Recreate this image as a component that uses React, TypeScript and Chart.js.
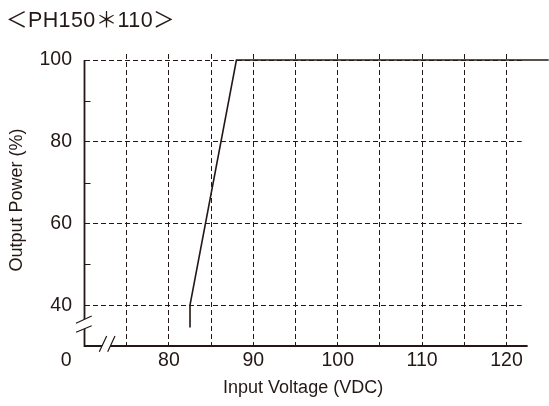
import React, { useEffect, useRef } from 'react';
import { Chart, registerables } from 'chart.js';

Chart.register(...registerables);

const chartTitle = '＜PH150＊110＞';
const xTitle = 'Input Voltage (VDC)';
const yTitle = 'Output Power (%)';
const inputVoltage = [82.5, 82.5, 88, 125];
const outputPower = [34.5, 40, 100, 100];
const xGridValues = [75, 80, 85, 90, 95, 100, 105, 110, 115, 120];
const xLabelValues = [80, 90, 100, 110, 120];
const yGridValues = [40, 60, 80, 100];
const yMinorValues = [50, 70, 90];
const xBreakLabel = '0';

const X_MIN = 70;
const X_MAX = 121.8;
const X_AXIS_END = 122.5;
const Y_MIN = 30;
const Y_MAX = 101.47;
const Y_AXIS_TOP = 100;

const INK = '#231815';
const FONT = '"Liberation Sans", Arial, sans-serif';

const decorPlugin = {
  id: 'decor',
  afterDraw(chart: any) {
    const { ctx } = chart;
    const xs = chart.scales.x;
    const ys = chart.scales.y;
    const x0 = xs.getPixelForValue(X_MIN);
    const xEnd = xs.getPixelForValue(X_AXIS_END);
    const y0 = ys.getPixelForValue(Y_MIN);
    const yTop = ys.getPixelForValue(Y_AXIS_TOP);
    ctx.save();
    ctx.setLineDash([]);
    ctx.strokeStyle = INK;
    ctx.lineCap = 'butt';
    // axes
    ctx.lineWidth = 1.8;
    ctx.beginPath();
    ctx.moveTo(x0, yTop);
    ctx.lineTo(x0, y0);
    ctx.lineTo(xEnd, y0);
    ctx.stroke();
    // minor ticks
    ctx.lineWidth = 1;
    yMinorValues.forEach((v) => {
      const py = Math.round(ys.getPixelForValue(v)) + 0.5;
      ctx.beginPath();
      ctx.moveTo(x0, py);
      ctx.lineTo(x0 + 6, py);
      ctx.stroke();
    });
    // breaks
    const drawBreak = (a: number[], b: number[], c: number[], d: number[]) => {
      ctx.fillStyle = '#ffffff';
      ctx.beginPath();
      ctx.moveTo(a[0], a[1]);
      ctx.lineTo(b[0], b[1]);
      ctx.lineTo(d[0], d[1]);
      ctx.lineTo(c[0], c[1]);
      ctx.closePath();
      ctx.fill();
      ctx.lineWidth = 1.2;
      ctx.beginPath();
      ctx.moveTo(a[0], a[1]);
      ctx.lineTo(b[0], b[1]);
      ctx.moveTo(c[0], c[1]);
      ctx.lineTo(d[0], d[1]);
      ctx.stroke();
    };
    drawBreak(
      [x0 - 8.5, y0 - 22.7], [x0 + 7.2, y0 - 30],
      [x0 - 8.5, y0 - 13.7], [x0 + 7.2, y0 - 20.3]
    );
    drawBreak(
      [x0 + 14.8, y0 + 5.7], [x0 + 22.2, y0 - 10],
      [x0 + 23.2, y0 + 5.7], [x0 + 30.5, y0 - 10]
    );
    // "0" label
    ctx.fillStyle = INK;
    ctx.font = '19.5px ' + FONT;
    ctx.textAlign = 'center';
    ctx.textBaseline = 'middle';
    ctx.fillText(xBreakLabel, x0 - 18.3, y0 + 14.3);
    // title
    ctx.font = '21.5px ' + FONT + ', "Noto Sans CJK JP"';
    ctx.textAlign = 'left';
    try {
      (ctx as any).letterSpacing = '0.4px';
    } catch (e) {}
    ctx.fillText(chartTitle, 6, 21);
    ctx.restore();
  },
};

export default function App() {
  const ref = useRef<HTMLCanvasElement | null>(null);
  useEffect(() => {
    if (!ref.current) return;
    const chart = new Chart(ref.current, {
      type: 'scatter',
      data: {
        datasets: [
          {
            data: inputVoltage.map((v, i) => ({ x: v, y: outputPower[i] })),
            showLine: true,
            borderColor: INK,
            borderWidth: 1.6,
            pointRadius: 0,
            tension: 0,
            clip: false,
          } as any,
        ],
      },
      options: {
        animation: false,
        responsive: false,
        devicePixelRatio: 1,
        layout: { padding: { top: 54, right: 27.3, left: 0, bottom: 0 } },
        plugins: {
          legend: { display: false },
          title: { display: false },
          tooltip: { enabled: false },
        },
        scales: {
          x: {
            type: 'linear',
            min: X_MIN,
            max: X_MAX,
            afterBuildTicks: (s: any) => {
              s.ticks = xGridValues.map((v) => ({ value: v }));
            },
            afterFit: (s: any) => {
              s.height = 60;
            },
            ticks: {
              autoSkip: false,
              maxRotation: 0,
              padding: 2.6,
              color: INK,
              font: { family: FONT, size: 19.5 },
              callback: (v: any) => (xLabelValues.includes(Number(v)) ? String(v) : ''),
            },
            grid: { color: INK, lineWidth: 1, drawTicks: false },
            border: { display: false, dash: [5, 3] },
            title: {
              display: true,
              text: xTitle,
              color: INK,
              font: { family: FONT, size: 18 },
              padding: { top: 0, bottom: 6.7 },
            },
          },
          y: {
            type: 'linear',
            min: Y_MIN,
            max: Y_MAX,
            afterBuildTicks: (s: any) => {
              s.ticks = yGridValues.map((v) => ({ value: v }));
            },
            afterFit: (s: any) => {
              s.width = 84.5;
            },
            ticks: {
              autoSkip: false,
              padding: 12.5,
              color: INK,
              font: { family: FONT, size: 19.5 },
              callback: (v: any) => String(v),
            },
            grid: { color: INK, lineWidth: 1, drawTicks: false },
            border: { display: false, dash: [5, 3] },
            title: {
              display: true,
              text: yTitle,
              color: INK,
              font: { family: FONT, size: 18 },
              padding: { top: 6.2, bottom: 0 },
            },
          },
        },
      },
      plugins: [decorPlugin],
    } as any);
    return () => chart.destroy();
  }, []);
  return (
    <div style={{ position: 'absolute', left: 0, top: 0, width: 549, height: 406, background: '#fff' }}>
      <canvas ref={ref} width={549} height={406} style={{ display: 'block' }} />
    </div>
  );
}
